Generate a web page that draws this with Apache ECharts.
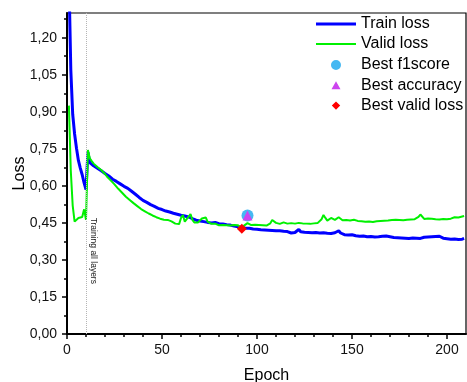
<!DOCTYPE html>
<html><head><meta charset="utf-8">
<script src="https://cdn.jsdelivr.net/npm/echarts@6/dist/echarts.min.js"></script>
<style>html,body{margin:0;padding:0;background:#fff}#c{width:467px;height:382px}</style>
</head><body><div id="c"></div>
<script>
// Epochs start at 1
const trainLoss = [1.45,1.07,0.89,0.81,0.752,0.703,0.672,0.645,0.612,0.585,
0.736,0.694,0.689,0.681,0.678,0.671,0.667,0.661,0.655,0.650,
0.643,0.640,0.632,0.627,0.621,0.618,0.611,0.608,0.603,0.598,
0.596,0.590,0.584,0.578,0.572,0.566,0.561,0.553,0.549,0.541,
0.540,0.533,0.531,0.524,0.522,0.517,0.515,0.509,0.507,0.504,
0.503,0.498,0.500,0.494,0.495,0.489,0.490,0.485,0.480,0.481,
0.476,0.478,0.472,0.474,0.468,0.467,0.463,0.461,0.464,0.458,
0.460,0.455,0.457,0.452,0.455,0.450,0.449,0.452,0.446,0.447,
0.444,0.446,0.441,0.443,0.439,0.441,0.436,0.437,0.433,0.434,
0.430,0.432,0.427,0.428,0.425,0.428,0.423,0.425,0.421,0.424,
0.419,0.422,0.418,0.421,0.417,0.420,0.415,0.419,0.416,0.418,
0.414,0.418,0.413,0.416,0.411,0.415,0.412,0.409,0.414,0.411,
0.418,0.424,0.414,0.410,0.412,0.407,0.411,0.406,0.410,0.407,
0.411,0.405,0.409,0.406,0.410,0.404,0.408,0.403,0.407,0.405,
0.410,0.414,0.418,0.409,0.405,0.402,0.406,0.401,0.405,0.402,
0.404,0.398,0.401,0.396,0.400,0.397,0.399,0.394,0.398,0.395,
0.397,0.393,0.398,0.394,0.399,0.396,0.401,0.397,0.399,0.394,
0.396,0.391,0.395,0.390,0.393,0.389,0.392,0.388,0.391,0.387,
0.392,0.389,0.393,0.388,0.391,0.387,0.390,0.392,0.388,0.393,
0.389,0.394,0.390,0.395,0.392,0.396,0.391,0.388,0.392,0.386,
0.389,0.384,0.388,0.385,0.388,0.383,0.387,0.384,0.387];
const validLoss = [0.925,0.66,0.52,0.455,0.460,0.470,0.478,0.474,0.505,0.462,
0.745,0.712,0.700,0.690,0.682,0.676,0.670,0.664,0.656,0.648,
0.638,0.630,0.622,0.615,0.606,0.598,0.588,0.580,0.572,0.564,
0.556,0.550,0.543,0.537,0.530,0.524,0.518,0.511,0.506,0.501,
0.497,0.492,0.488,0.484,0.480,0.477,0.473,0.470,0.467,0.465,
0.463,0.461,0.462,0.459,0.456,0.450,0.447,0.450,0.445,0.470,
0.482,0.455,0.448,0.475,0.486,0.462,0.452,0.458,0.452,0.460,
0.468,0.460,0.472,0.455,0.448,0.446,0.444,0.447,0.442,0.440,
0.443,0.441,0.445,0.440,0.442,0.439,0.444,0.441,0.437,0.440,
0.436,0.426,0.438,0.445,0.449,0.446,0.441,0.444,0.442,0.445,
0.441,0.443,0.440,0.442,0.439,0.441,0.448,0.462,0.458,0.450,
0.447,0.446,0.449,0.452,0.450,0.447,0.446,0.449,0.445,0.447,
0.446,0.450,0.446,0.448,0.445,0.447,0.449,0.446,0.450,0.448,
0.452,0.450,0.455,0.465,0.482,0.470,0.459,0.457,0.470,0.474,
0.462,0.468,0.473,0.466,0.461,0.467,0.462,0.465,0.460,0.466,
0.463,0.455,0.458,0.453,0.457,0.452,0.455,0.453,0.456,0.450,
0.454,0.451,0.457,0.453,0.458,0.455,0.459,0.456,0.460,0.457,
0.462,0.458,0.463,0.459,0.462,0.465,0.461,0.466,0.463,0.467,
0.464,0.468,0.465,0.470,0.474,0.484,0.478,0.466,0.463,0.468,
0.464,0.467,0.461,0.465,0.468,0.464,0.470,0.466,0.469,0.465,
0.471,0.467,0.470,0.473,0.469,0.472,0.470,0.476,0.478];
const bestF1 = [95, 0.48];
const bestAcc = [95, 0.48];
const bestValid = [92, 0.426];
const markerEpoch = 10;
const annotationText = 'Training all layers';
const annotationAt = [13.9, 0.337];
const xMajor = [0, 50, 100, 150, 200];
const xMinor = [10,20,30,40,60,70,80,90,110,120,130,140,160,170,180,190];
const yMajor = [0, 0.15, 0.3, 0.45, 0.6, 0.75, 0.9, 1.05, 1.2];
const yMinor = [0.075, 0.225, 0.375, 0.525, 0.675, 0.825, 0.975, 1.125, 1.275];

const FONT = "'Liberation Sans', Arial, sans-serif";
const chart = echarts.init(document.getElementById('c'), null, {renderer: 'canvas'});
const pairs = arr => arr.map((v, i) => [i + 1, v]);
const fmt = v => v.toFixed(2).replace('.', ',');

// Legend icon shapes (tiny corner anchors keep the icon box at 40 x 14 / 40 x 10 unscaled)
const box14 = 'M0,0L0.001,0L0,0.001Z M40,14L39.999,14L40,13.999Z ';
const box10 = 'M0,0L0.001,0L0,0.001Z M40,10L39.999,10L40,9.999Z ';
const iconTrain = 'path://' + box14 + 'M0,5.6L40,5.6L40,8.4L0,8.4Z';
const iconValid = 'path://' + box14 + 'M0,6L40,6L40,8L0,8Z';
const iconCircle = 'path://' + box10 + 'M20,0A5,5 0 1 1 19.99,0Z';
const iconTri = 'path://' + box10 + 'M20,1L24.5,9L15.5,9Z';
const iconDia = 'path://' + box10 + 'M20,0.8L24.2,5L20,9.2L15.8,5Z';

chart.setOption({
  animation: false,
  backgroundColor: '#fff',
  textStyle: {fontFamily: FONT},
  grid: {left: 67, right: 1, top: 13, bottom: 48, containLabel: false, outerBoundsMode: 'none',
    show: true, borderColor: '#000', borderWidth: 1.2, backgroundColor: 'transparent'},
  legend: [
    {data: [{name: 'Train loss', icon: iconTrain}, {name: 'Valid loss', icon: iconValid}],
     orient: 'vertical', left: 316, top: 16, padding: 0, itemWidth: 40, itemHeight: 14, itemGap: 4,
     textStyle: {fontSize: 16, color: '#000', fontFamily: FONT}, selectedMode: false},
    {data: [{name: 'Best f1score', icon: iconCircle}, {name: 'Best accuracy', icon: iconTri}, {name: 'Best valid loss', icon: iconDia}],
     orient: 'vertical', left: 316, top: 57, padding: 0, itemWidth: 40, itemHeight: 10, itemGap: 4.3,
     textStyle: {fontSize: 16, color: '#000', fontFamily: FONT}, selectedMode: false}
  ],
  xAxis: [
    {type: 'value', min: 0, max: 210, name: 'Epoch', nameLocation: 'middle', nameGap: 34, nameMoveOverlap: false,
     nameTextStyle: {fontSize: 16, color: '#000', fontFamily: FONT},
     axisLine: {show: true, onZero: false, lineStyle: {color: '#000', width: 2}},
     axisTick: {show: true, inside: false, length: 5, customValues: xMajor, lineStyle: {color: '#000', width: 1.5}},
     axisLabel: {show: true, customValues: xMajor, fontSize: 14, color: '#111', margin: 9, fontFamily: FONT},
     splitLine: {show: false}},
    {type: 'value', min: 0, max: 210, position: 'bottom', show: true,
     axisLine: {show: false}, axisLabel: {show: false}, splitLine: {show: false},
     axisTick: {show: true, length: 3, customValues: xMinor, lineStyle: {color: '#000', width: 1.5}}}
  ],
  yAxis: [
    {type: 'value', min: 0, max: 1.3, name: 'Loss', nameLocation: 'middle', nameGap: 39, nameMoveOverlap: false,
     nameTextStyle: {fontSize: 16, color: '#000', fontFamily: FONT},
     axisLine: {show: true, onZero: false, lineStyle: {color: '#000', width: 2}},
     axisTick: {show: true, length: 5, customValues: yMajor, lineStyle: {color: '#000', width: 1.5}},
     axisLabel: {show: true, customValues: yMajor, formatter: fmt, fontSize: 14, color: '#111', margin: 10, fontFamily: FONT},
     splitLine: {show: false}},
    {type: 'value', min: 0, max: 1.3, position: 'left', show: true,
     axisLine: {show: false}, axisLabel: {show: false}, splitLine: {show: false},
     axisTick: {show: true, length: 3, customValues: yMinor, lineStyle: {color: '#000', width: 1.5}}}
  ],
  series: [
    {name: 'Train loss', type: 'line', data: pairs(trainLoss), symbol: 'none', showSymbol: false,
     lineStyle: {color: '#0000ff', width: 3}, itemStyle: {color: '#0000ff'}, z: 3,
     markLine: {silent: true, symbol: ['none', 'none'], label: {show: false},
       lineStyle: {type: 'dotted', color: '#b5b5b5', width: 1}, data: [{xAxis: markerEpoch}]},
     markPoint: {silent: true, symbol: 'circle', symbolSize: 0,
       data: [{coord: annotationAt, value: annotationText}],
       label: {show: true, position: 'inside', formatter: annotationText, rotate: -90,
         fontSize: 8.5, color: '#222', fontFamily: FONT}}},
    {name: 'Valid loss', type: 'line', data: pairs(validLoss), symbol: 'none', showSymbol: false,
     lineStyle: {color: '#00f000', width: 2}, itemStyle: {color: '#00f000'}, z: 4},
    {name: 'Best f1score', type: 'scatter', data: [bestF1], symbol: 'circle', symbolSize: 12,
     itemStyle: {color: '#45b8f2', opacity: 1}, z: 5},
    {name: 'Best accuracy', type: 'scatter', data: [bestAcc], symbol: 'triangle', symbolSize: 10,
     itemStyle: {color: '#cc44ee', opacity: 1}, z: 6},
    {name: 'Best valid loss', type: 'scatter', data: [bestValid], symbol: 'diamond', symbolSize: 10,
     itemStyle: {color: '#ff0000', opacity: 1}, z: 7}
  ]
});
</script></body></html>
